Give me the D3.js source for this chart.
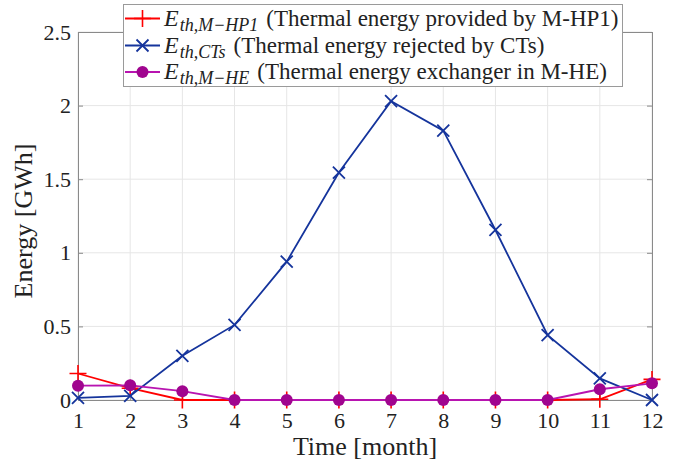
<!DOCTYPE html>
<html><head><meta charset="utf-8">
<script src="https://cdn.jsdelivr.net/npm/d3@7"></script>
<style>body{margin:0;background:#fff;font-family:'Liberation Serif'}svg{display:block}</style>
</head><body><svg id="c" width="677" height="465" style="font-family:'Liberation Serif'"></svg>
<script>
const months = [1,2,3,4,5,6,7,8,9,10,11,12];
const hp1 = [0.18,0.08,0.0,0.0,0.0,0.0,0.0,0.0,0.0,0.0,0.005,0.14];
const cts = [0.015,0.028,0.30,0.51,0.94,1.545,2.03,1.83,1.155,0.44,0.147,0.0];
const mhe = [0.097,0.10,0.06,0.0,0.0,0.0,0.0,0.0,0.0,0.0,0.073,0.113];
const yTicks = [0,0.5,1,1.5,2,2.5];
const yTickLabels = ["0","0.5","1","1.5","2","2.5"];
const legendSub = ["th,M\u2212HP1","th,CTs","th,M\u2212HE"];
const legendText = ["(Thermal energy provided by M-HP1)","(Thermal energy rejected by CTs)","(Thermal energy exchanger in M-HE)"];

const svg = d3.select("#c");
const L=78,R=652,T=32,B=400;
const x = d3.scaleLinear().domain([1,12]).range([L,R]);
const y = d3.scaleLinear().domain([0,2.5]).range([B,T]);

function setFont(sel,size,style){
  sel.attr("font-family",null).style("font",(style||"normal")+" "+size+"px 'Liberation Serif'");
}

// grid
svg.append("g").selectAll("line").data(months).join("line")
  .attr("x1",d=>x(d)).attr("x2",d=>x(d)).attr("y1",T).attr("y2",B)
  .attr("stroke","#e6e6e6").attr("stroke-width",1);
svg.append("g").selectAll("line").data(yTicks).join("line")
  .attr("y1",d=>y(d)).attr("y2",d=>y(d)).attr("x1",L).attr("x2",R)
  .attr("stroke","#e6e6e6").attr("stroke-width",1);

// axes (ticks inward)
const ax = svg.append("g").attr("transform",`translate(0,${B})`)
  .call(d3.axisBottom(x).tickValues(months).tickSize(-5).tickPadding(12).tickFormat(d3.format("d")));
const ay = svg.append("g").attr("transform",`translate(${L},0)`)
  .call(d3.axisLeft(y).tickValues(yTicks).tickSize(-5).tickPadding(7).tickFormat((d,i)=>yTickLabels[i]));
const axt = svg.append("g").attr("transform",`translate(0,${T})`)
  .call(d3.axisTop(x).tickValues(months).tickSize(-5).tickFormat(""));
const ayr = svg.append("g").attr("transform",`translate(${R},0)`)
  .call(d3.axisRight(y).tickValues(yTicks).tickSize(-5).tickFormat(""));
[ax,ay,axt,ayr].forEach(g=>{
  g.attr("font-family",null).attr("font-size",null);
  g.select(".domain").attr("stroke","#8a8a8a").attr("stroke-width",1);
  g.selectAll(".tick line").attr("stroke","#8a8a8a");
  setFont(g.selectAll("text"),22);
  g.selectAll("text").attr("fill","#222");
});
ax.selectAll("text").attr("dy","0.71em");

// axis labels
setFont(svg.append("text").attr("x",(L+R)/2).attr("y",455).attr("text-anchor","middle")
  .attr("fill","#222").text("Time [month]"),26);
setFont(svg.append("text").attr("transform",`translate(32,${(T+B)/2+5}) rotate(-90)`).attr("text-anchor","middle")
  .attr("fill","#222").text("Energy [GWh]"),26);

const line = d3.line().x((d,i)=>x(months[i])).y(d=>y(d));
const red="#ff0000", blue="#15349c", purple="#b814b0", purpleM="#a0058f";

function plus(g,cx,cy,s,c){g.append("path").attr("d",`M${cx-s},${cy}H${cx+s}M${cx},${cy-s}V${cy+s}`).attr("stroke",c).attr("stroke-width",1.6).attr("fill","none");}
function cross(g,cx,cy,s,c){g.append("path").attr("d",`M${cx-s},${cy-s}L${cx+s},${cy+s}M${cx-s},${cy+s}L${cx+s},${cy-s}`).attr("stroke",c).attr("stroke-width",1.8).attr("fill","none");}
function dot(g,cx,cy,r,c){g.append("circle").attr("cx",cx).attr("cy",cy).attr("r",r).attr("fill",c);}

// series
const gR = svg.append("g");
gR.append("path").attr("d",line(hp1)).attr("fill","none").attr("stroke",red).attr("stroke-width",1.8);
hp1.forEach((v,i)=>plus(gR,x(months[i]),y(v),8.5,red));
const gB = svg.append("g");
gB.append("path").attr("d",line(cts)).attr("fill","none").attr("stroke",blue).attr("stroke-width",1.8);
cts.forEach((v,i)=>cross(gB,x(months[i]),y(v),6,blue));
const gP = svg.append("g");
gP.append("path").attr("d",line(mhe)).attr("fill","none").attr("stroke",purple).attr("stroke-width",1.8);
mhe.forEach((v,i)=>dot(gP,x(months[i]),y(v),6,purpleM));

// legend
const lg = svg.append("g");
lg.append("rect").attr("x",123.5).attr("y",4.5).attr("width",499).attr("height",82)
  .attr("fill","#fff").attr("stroke","#9a9a9a").attr("stroke-width",1);
const rowsY=[18.5,45.5,72];
const markers=[(g,cx,cy)=>plus(g,cx,cy,8.5,red),(g,cx,cy)=>cross(g,cx,cy,6,blue),(g,cx,cy)=>dot(g,cx,cy,6,purpleM)];
const lcols=[red,blue,purple];
rowsY.forEach((ry,i)=>{
  lg.append("line").attr("x1",125).attr("x2",160).attr("y1",ry).attr("y2",ry).attr("stroke",lcols[i]).attr("stroke-width",1.8);
  markers[i](lg,142.5,ry);
  const t = lg.append("text").attr("x",164).attr("y",ry+7.2).attr("fill","#222");
  setFont(t,23);
  setFont(t.append("tspan").text("E"),24,"italic");
  setFont(t.append("tspan").attr("dx",1).attr("dy",5).text(legendSub[i]),18,"italic");
  setFont(t.append("tspan").attr("dx",8).attr("dy",-5).text(legendText[i]),23);
});
</script></body></html>
